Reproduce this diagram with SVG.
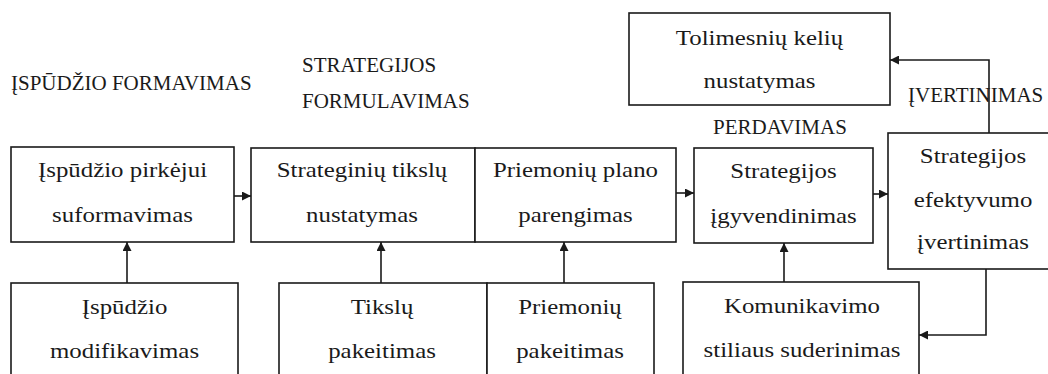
<svg xmlns="http://www.w3.org/2000/svg" width="1048" height="374" viewBox="0 0 1048 374">
<defs>
<marker id="ah" viewBox="0 0 10 10" refX="10" refY="5" markerWidth="9" markerHeight="9" markerUnits="userSpaceOnUse" orient="auto">
<path d="M0,0 L10,5 L0,10 z" fill="#1a1a1a"/>
</marker>
</defs>
<rect width="1048" height="374" fill="#fff"/>

<g id="labels" fill="#1a1a1a">
<text style="font-family:'Liberation Serif','Times New Roman',serif !important;font-size:21px !important" font-family="Liberation Serif" x="11" y="90">ĮSPŪDŽIO FORMAVIMAS</text>
<text style="font-family:'Liberation Serif','Times New Roman',serif !important;font-size:21px !important" font-family="Liberation Serif" x="302" y="72">STRATEGIJOS</text>
<text style="font-family:'Liberation Serif','Times New Roman',serif !important;font-size:21px !important" font-family="Liberation Serif" x="302" y="108">FORMULAVIMAS</text>
<text style="font-family:'Liberation Serif','Times New Roman',serif !important;font-size:21px !important" font-family="Liberation Serif" x="713" y="134">PERDAVIMAS</text>
<text style="font-family:'Liberation Serif','Times New Roman',serif !important;font-size:21px !important" font-family="Liberation Serif" x="908" y="102">ĮVERTINIMAS</text>
</g>

<g id="n-tolimesniu" fill="#fff" stroke="#1a1a1a" stroke-width="1.6">
<rect x="629" y="13" width="261" height="92"/>
<text fill="#1a1a1a" stroke="none" style="font-family:'Liberation Serif','Times New Roman',serif !important;font-size:22px !important" text-anchor="middle" transform="translate(759.5 0) scale(1.13 1)" x="0" y="45">Tolimesnių kelių</text>
<text fill="#1a1a1a" stroke="none" style="font-family:'Liberation Serif','Times New Roman',serif !important;font-size:22px !important" text-anchor="middle" transform="translate(759.5 0) scale(1.13 1)" x="0" y="88">nustatymas</text>
</g>

<g id="n-ispudzio" fill="#fff" stroke="#1a1a1a" stroke-width="1.6">
<rect x="11" y="147" width="223" height="95"/>
<text fill="#1a1a1a" stroke="none" style="font-family:'Liberation Serif','Times New Roman',serif !important;font-size:22px !important" text-anchor="middle" transform="translate(122.5 0) scale(1.13 1)" x="0" y="177">Įspūdžio pirkėjui</text>
<text fill="#1a1a1a" stroke="none" style="font-family:'Liberation Serif','Times New Roman',serif !important;font-size:22px !important" text-anchor="middle" transform="translate(122.5 0) scale(1.13 1)" x="0" y="222">suformavimas</text>
</g>

<g id="n-tikslu" fill="#fff" stroke="#1a1a1a" stroke-width="1.6">
<rect x="251" y="148" width="224" height="94"/>
<text fill="#1a1a1a" stroke="none" style="font-family:'Liberation Serif','Times New Roman',serif !important;font-size:22px !important" text-anchor="middle" transform="translate(362 0) scale(1.13 1)" x="0" y="177">Strateginių tikslų</text>
<text fill="#1a1a1a" stroke="none" style="font-family:'Liberation Serif','Times New Roman',serif !important;font-size:22px !important" text-anchor="middle" transform="translate(362 0) scale(1.13 1)" x="0" y="222">nustatymas</text>
</g>

<g id="n-plano" fill="#fff" stroke="#1a1a1a" stroke-width="1.6">
<rect x="475" y="148" width="201" height="94"/>
<text fill="#1a1a1a" stroke="none" style="font-family:'Liberation Serif','Times New Roman',serif !important;font-size:22px !important" text-anchor="middle" transform="translate(575.5 0) scale(1.13 1)" x="0" y="177">Priemonių plano</text>
<text fill="#1a1a1a" stroke="none" style="font-family:'Liberation Serif','Times New Roman',serif !important;font-size:22px !important" text-anchor="middle" transform="translate(575.5 0) scale(1.13 1)" x="0" y="222">parengimas</text>
</g>

<g id="n-igyvendinimas" fill="#fff" stroke="#1a1a1a" stroke-width="1.6">
<rect x="694" y="148" width="179" height="95"/>
<text fill="#1a1a1a" stroke="none" style="font-family:'Liberation Serif','Times New Roman',serif !important;font-size:22px !important" text-anchor="middle" transform="translate(783.5 0) scale(1.13 1)" x="0" y="178">Strategijos</text>
<text fill="#1a1a1a" stroke="none" style="font-family:'Liberation Serif','Times New Roman',serif !important;font-size:22px !important" text-anchor="middle" transform="translate(783.5 0) scale(1.13 1)" x="0" y="223">įgyvendinimas</text>
</g>

<g id="n-efektyvumo" fill="#fff" stroke="#1a1a1a" stroke-width="1.6">
<rect x="888" y="133" width="170" height="136"/>
<text fill="#1a1a1a" stroke="none" style="font-family:'Liberation Serif','Times New Roman',serif !important;font-size:22px !important" text-anchor="middle" transform="translate(973 0) scale(1.13 1)" x="0" y="163">Strategijos</text>
<text fill="#1a1a1a" stroke="none" style="font-family:'Liberation Serif','Times New Roman',serif !important;font-size:22px !important" text-anchor="middle" transform="translate(973 0) scale(1.13 1)" x="0" y="207">efektyvumo</text>
<text fill="#1a1a1a" stroke="none" style="font-family:'Liberation Serif','Times New Roman',serif !important;font-size:22px !important" text-anchor="middle" transform="translate(973 0) scale(1.13 1)" x="0" y="249">įvertinimas</text>
</g>

<g id="n-modifikavimas" fill="#fff" stroke="#1a1a1a" stroke-width="1.6">
<rect x="11" y="283" width="227" height="100"/>
<text fill="#1a1a1a" stroke="none" style="font-family:'Liberation Serif','Times New Roman',serif !important;font-size:22px !important" text-anchor="middle" transform="translate(124.5 0) scale(1.13 1)" x="0" y="314">Įspūdžio</text>
<text fill="#1a1a1a" stroke="none" style="font-family:'Liberation Serif','Times New Roman',serif !important;font-size:22px !important" text-anchor="middle" transform="translate(124.5 0) scale(1.13 1)" x="0" y="358">modifikavimas</text>
</g>

<g id="n-tikslu-pakeitimas" fill="#fff" stroke="#1a1a1a" stroke-width="1.6">
<rect x="279" y="283" width="208" height="100"/>
<text fill="#1a1a1a" stroke="none" style="font-family:'Liberation Serif','Times New Roman',serif !important;font-size:22px !important" text-anchor="middle" transform="translate(382 0) scale(1.13 1)" x="0" y="314">Tikslų</text>
<text fill="#1a1a1a" stroke="none" style="font-family:'Liberation Serif','Times New Roman',serif !important;font-size:22px !important" text-anchor="middle" transform="translate(382 0) scale(1.13 1)" x="0" y="358">pakeitimas</text>
</g>

<g id="n-priemoniu-pakeitimas" fill="#fff" stroke="#1a1a1a" stroke-width="1.6">
<rect x="487" y="283" width="167" height="100"/>
<text fill="#1a1a1a" stroke="none" style="font-family:'Liberation Serif','Times New Roman',serif !important;font-size:22px !important" text-anchor="middle" transform="translate(570 0) scale(1.13 1)" x="0" y="314">Priemonių</text>
<text fill="#1a1a1a" stroke="none" style="font-family:'Liberation Serif','Times New Roman',serif !important;font-size:22px !important" text-anchor="middle" transform="translate(570 0) scale(1.13 1)" x="0" y="358">pakeitimas</text>
</g>

<g id="n-komunikavimo" fill="#fff" stroke="#1a1a1a" stroke-width="1.6">
<rect x="683" y="282" width="236" height="100"/>
<text fill="#1a1a1a" stroke="none" style="font-family:'Liberation Serif','Times New Roman',serif !important;font-size:22px !important" text-anchor="middle" transform="translate(802 0) scale(1.13 1)" x="0" y="313">Komunikavimo</text>
<text fill="#1a1a1a" stroke="none" style="font-family:'Liberation Serif','Times New Roman',serif !important;font-size:22px !important" text-anchor="middle" transform="translate(802 0) scale(1.13 1)" x="0" y="357">stiliaus suderinimas</text>
</g>

<g id="connectors" fill="none" stroke="#1a1a1a" stroke-width="1.6">
<line x1="234" y1="196" x2="251" y2="196" marker-end="url(#ah)"/>
<line x1="676" y1="193" x2="694" y2="193" marker-end="url(#ah)"/>
<line x1="873" y1="194" x2="888" y2="194" marker-end="url(#ah)"/>
<line x1="127" y1="283" x2="127" y2="242" marker-end="url(#ah)"/>
<line x1="381" y1="283" x2="381" y2="242" marker-end="url(#ah)"/>
<line x1="564" y1="283" x2="564" y2="242" marker-end="url(#ah)"/>
<line x1="784" y1="282" x2="784" y2="243" marker-end="url(#ah)"/>
<polyline points="989,133 989,60 890,60" marker-end="url(#ah)"/>
<polyline points="986,269 986,335 919,335" marker-end="url(#ah)"/>
</g>
</svg>
